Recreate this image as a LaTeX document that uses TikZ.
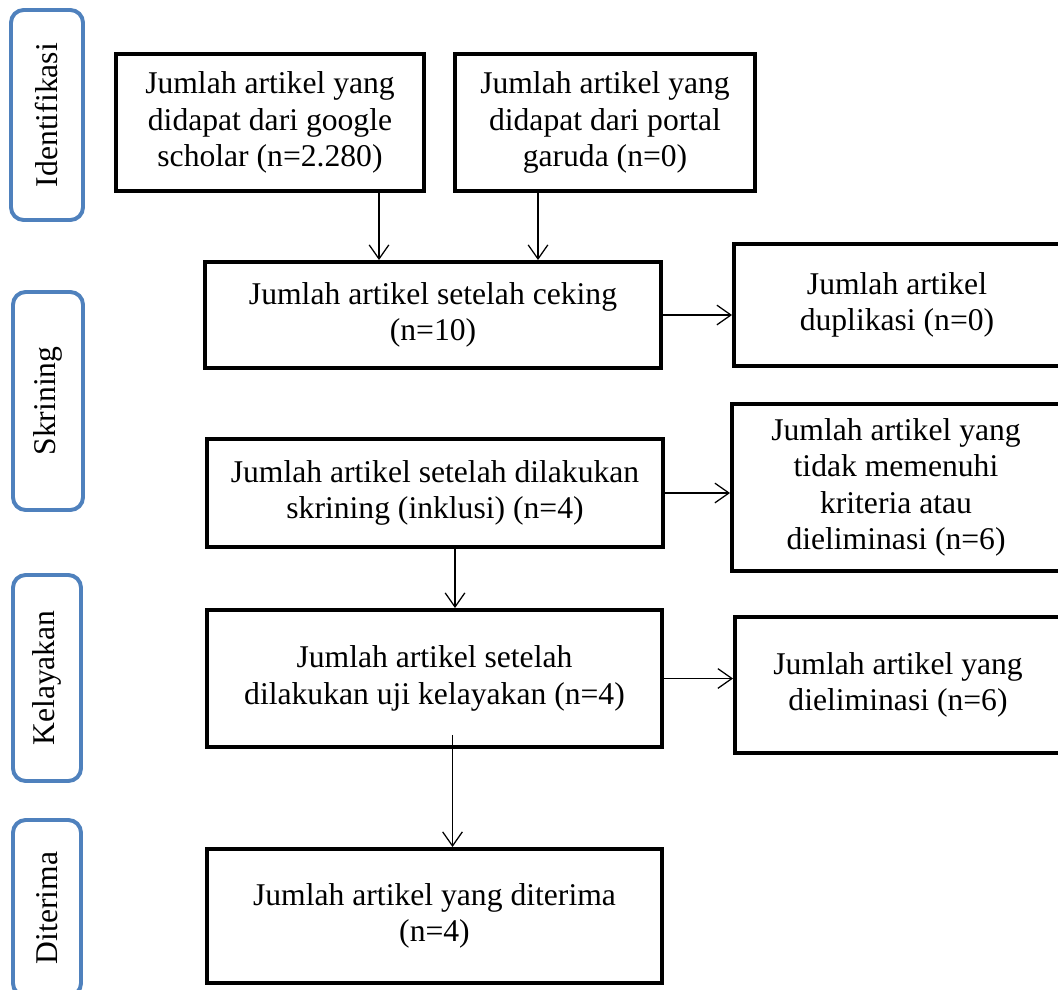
\documentclass[tikz,border=0pt]{standalone}
\usepackage{fontspec}
\setmainfont{Liberation Serif}
\usetikzlibrary{arrows.meta,calc}
\definecolor{sideblue}{HTML}{4F81BD}

\begin{document}
\begin{tikzpicture}[x=0.25mm,y=-0.25mm,
    every node/.style={font=\fontsize{22.5}{26}\selectfont},
    sz/.style 2 args={minimum width=#1*0.25mm,minimum height=#2*0.25mm},
    box/.style={draw,line width=2.8pt,align=center,inner sep=0pt},
    side/.style={draw=sideblue,line width=2.8pt,rounded corners=9pt,rotate=90,inner sep=0pt},
    arr/.style={-{Straight Barb[length=10pt,width=14pt]},line width=0.9pt}]
    \useasboundingbox (0,0) rectangle (1058,990);
    \clip (0,0) rectangle (1058,990);

    \coordinate (idf) at (47,115);
    \coordinate (skr) at (48,401);
    \coordinate (kly) at (47,678);
    \coordinate (trm) at (47,908);

    \coordinate (g) at (270,122.5);
    \coordinate (p) at (605,122.5);
    \coordinate (c) at (433,315);
    \coordinate (d) at (897,305);
    \coordinate (s) at (435,493);
    \coordinate (t) at (896,487.5);
    \coordinate (u) at (434.5,678.5);
    \coordinate (e) at (898,685);
    \coordinate (r) at (434.5,916);

    \node (IDF) [side,sz={210}{72}] at (idf) {Identifikasi};
    \node (SKR) [side,sz={218}{70}] at (skr) {Skrining};
    \node (KLY) [side,sz={206}{68}] at (kly) {Kelayakan};
    \node (TRM) [side,sz={176}{68}] at (trm) {Diterima};

    \node (G) [box,sz={308}{137}] at (g) {Jumlah artikel yang\\didapat dari google\\scholar (n=2.280)};
    \node (P) [box,sz={300}{137}] at (p) {Jumlah artikel yang\\didapat dari portal\\garuda (n=0)};
    \node (C) [box,sz={456}{106}] at (c) {Jumlah artikel setelah ceking\\(n=10)};
    \node (D) [box,sz={326}{122}] at (d) {Jumlah artikel\\duplikasi (n=0)};
    \node (S) [box,sz={456}{108}] at (s) {Jumlah artikel setelah dilakukan\\skrining (inklusi) (n=4)};
    \node (T) [box,sz={328}{167}] at (t) {Jumlah artikel yang\\tidak memenuhi\\kriteria atau\\dieliminasi (n=6)};
    \node (U) [box,sz={455}{137}] at (u) {Jumlah artikel setelah\\dilakukan uji kelayakan (n=4)};
    \node (E) [box,sz={326}{136}] at (e) {Jumlah artikel yang\\dieliminasi (n=6)};
    \node (R) [box,sz={455}{134}] at (r) {Jumlah artikel yang diterima\\(n=4)};

    \draw[arr] ([xshift=27.25mm]G.south) -- ([xshift=27.25mm]G.south |- C.north);
    \draw[arr] ([xshift=-16.75mm]P.south) -- ([xshift=-16.75mm]P.south |- C.north);
    \draw[arr] (C.east) -- (C.east -| D.west);
    \draw[arr] (S.east) -- (S.east -| T.west);
    \draw[arr] ([xshift=5mm]S.south) -- ([xshift=5mm]S.south |- U.north);
    \draw[arr] (U.east) -- (U.east -| E.west);
    \draw[arr] ([xshift=4.5mm,yshift=3.5mm]U.south) -- ([xshift=4.5mm]U.south |- R.north);

  \end{tikzpicture}
\end{document}
